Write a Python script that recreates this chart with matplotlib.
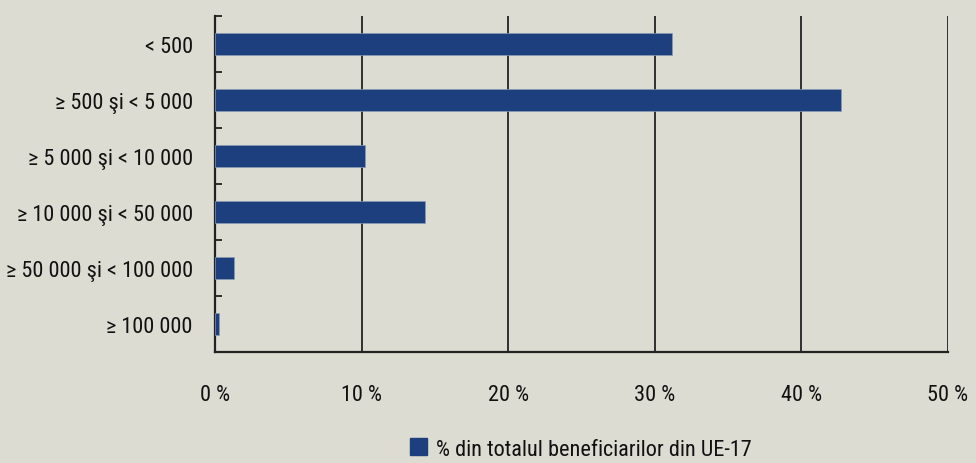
import numpy as np
import matplotlib.pyplot as plt
from matplotlib.patches import Patch

plt.rcParams['font.family'] = ['Liberation Sans Narrow', 'DejaVu Sans Condensed',
                               'Roboto Condensed', 'Liberation Sans', 'DejaVu Sans']
plt.rcParams['font.stretch'] = 'condensed'

categorii = ['< 500', '≥ 500 şi < 5 000', '≥ 5 000 şi < 10 000',
             '≥ 10 000 şi < 50 000', '≥ 50 000 şi < 100 000', '≥ 100 000']
procente = [31.2, 42.7, 10.2, 14.3, 1.3, 0.3]
ticks_x = [0, 10, 20, 30, 40, 50]
eticheta = '% din totalul beneficiarilor din UE-17'

fundal = '#dcdcd2'
albastru = '#1d3f7e'

fig = plt.figure(figsize=(9.76, 4.64), dpi=100, facecolor=fundal)
ax = fig.add_axes([0.2203, 0.2392, 0.7510, 0.7242])
ax.set_facecolor(fundal)

y = np.arange(len(categorii))
ax.barh(y, procente, height=0.39, color=albastru, edgecolor='#8a9bb5',
        linewidth=0.5, zorder=3)

ax.set_xlim(0, 50)
ax.set_ylim(len(categorii) - 0.5, -0.5)

ax.set_xticks(ticks_x)
ax.set_xticklabels([f'{v} %' for v in ticks_x])
ax.set_yticks(y)
ax.set_yticklabels(categorii)
ax.set_yticks(np.arange(-0.5, len(categorii), 1), minor=True)

ax.tick_params(axis='x', length=0, pad=23, labelsize=16, labelcolor='#111111')
ax.tick_params(axis='y', which='major', length=0, pad=16, labelsize=16,
               labelcolor='#111111')
ax.tick_params(axis='y', which='minor', direction='in', length=5, width=1.3,
               color='#222222')

ax.grid(axis='x', color='#222222', linewidth=1.3, zorder=1)
for s in ['top', 'right']:
    ax.spines[s].set_visible(False)
for s in ['left', 'bottom']:
    ax.spines[s].set_linewidth(1.6)
    ax.spines[s].set_color('#222222')

fig.legend(handles=[Patch(color=albastru, label=eticheta)],
           loc='lower center', bbox_to_anchor=(0.595, -0.036), frameon=False,
           fontsize=16, handlelength=0.8, handleheight=0.8, handletextpad=0.4,
           labelcolor='#111111')

plt.savefig('out.png', dpi=100, facecolor=fundal)
